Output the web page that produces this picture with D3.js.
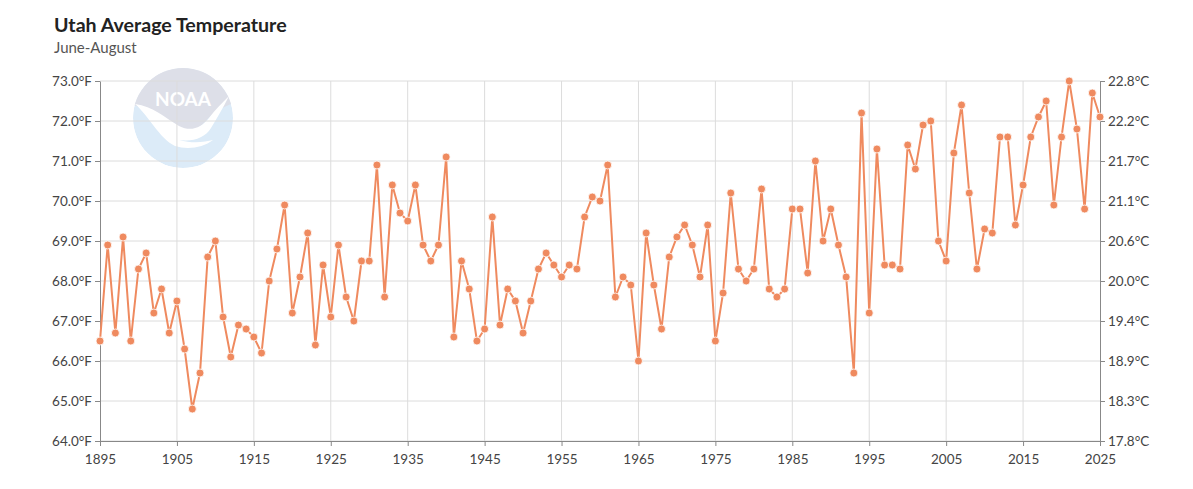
<!DOCTYPE html>
<html>
<head>
<meta charset="utf-8">
<script src="https://cdn.jsdelivr.net/npm/d3@7"></script>
<style>
  body { margin: 0; background: #fff; }
  svg { display: block; font-family: "Source Sans Pro", Lato, "Noto Sans", sans-serif; }
</style>
</head>
<body>
<div id="chart"></div>
<script>
const firstYear = 1895;
const temps = [
  66.5, 68.9, 66.7, 69.1, 66.5, 68.3, 68.7, 67.2, 67.8, 66.7,
  67.5, 66.3, 64.8, 65.7, 68.6, 69.0, 67.1, 66.1, 66.9, 66.8,
  66.6, 66.2, 68.0, 68.8, 69.9, 67.2, 68.1, 69.2, 66.4, 68.4,
  67.1, 68.9, 67.6, 67.0, 68.5, 68.5, 70.9, 67.6, 70.4, 69.7,
  69.5, 70.4, 68.9, 68.5, 68.9, 71.1, 66.6, 68.5, 67.8, 66.5,
  66.8, 69.6, 66.9, 67.8, 67.5, 66.7, 67.5, 68.3, 68.7, 68.4,
  68.1, 68.4, 68.3, 69.6, 70.1, 70.0, 70.9, 67.6, 68.1, 67.9,
  66.0, 69.2, 67.9, 66.8, 68.6, 69.1, 69.4, 68.9, 68.1, 69.4,
  66.5, 67.7, 70.2, 68.3, 68.0, 68.3, 70.3, 67.8, 67.6, 67.8,
  69.8, 69.8, 68.2, 71.0, 69.0, 69.8, 68.9, 68.1, 65.7, 72.2,
  67.2, 71.3, 68.4, 68.4, 68.3, 71.4, 70.8, 71.9, 72.0, 69.0,
  68.5, 71.2, 72.4, 70.2, 68.3, 69.3, 69.2, 71.6, 71.6, 69.4,
  70.4, 71.6, 72.1, 72.5, 69.9, 71.6, 73.0, 71.8, 69.8, 72.7,
  72.1
];
const yearTicks = [1895, 1905, 1915, 1925, 1935, 1945, 1955, 1965, 1975, 1985, 1995, 2005, 2015, 2025];
const fTicks = [64, 65, 66, 67, 68, 69, 70, 71, 72, 73];

const data = temps.map((t, i) => ({ year: firstYear + i, temp: t }));

const width = 1193, height = 489;
const marginLeft = 100, marginRight = 93, marginTop = 81, marginBottom = 48;

const svg = d3.select('#chart').append('svg')
  .attr('width', width)
  .attr('height', height);

const x = d3.scaleLinear()
  .domain([1895, 2025])
  .range([marginLeft, width - marginRight]);

const y = d3.scaleLinear()
  .domain([64, 73])
  .range([height - marginBottom, marginTop]);

// title
svg.append('text')
  .attr('x', 54).attr('y', 32)
  .style('font-size', '19.6px').style('font-weight', 'bold').attr('fill', '#222')
  .text('Utah Average Temperature');
svg.append('text')
  .attr('x', 54).attr('y', 53)
  .style('font-size', '15px').attr('fill', '#555')
  .text('June-August');

// NOAA logo watermark
const logo = svg.append('g').attr('transform', 'translate(183,118)');
logo.append('clipPath').attr('id', 'logoClip')
  .append('circle').attr('r', 50);
const lg = logo.append('g').attr('clip-path', 'url(#logoClip)');
lg.append('circle').attr('r', 50).attr('fill', '#dcebf8');
lg.append('path')
  .attr('d', 'M-60,-60 L60,-60 L60,-18 C40,-12 30,-6 22,4 C12,14 2,16 -8,10 C-22,2 -38,-14 -60,-14 Z')
  .attr('fill', '#dddfe8');
lg.append('path')
  .attr('d', 'M-48,-14 C-30,-12 -18,0 -4,8 C8,14 18,10 26,0 C32,-8 38,-14 46,-22 C40,-10 34,0 28,10 C22,20 10,24 -4,22 C10,26 22,24 30,22 C20,30 4,32 -8,28 C-24,20 -34,-2 -48,-14 Z')
  .attr('fill', '#fff');
logo.append('text')
  .attr('x', 0).attr('y', -12)
  .attr('text-anchor', 'middle')
  .style('font-size', '19px').style('font-weight', 'bold')
  .attr('fill', '#fff')
  .text('NOAA');

// grid
svg.append('g')
  .selectAll('line')
  .data(fTicks)
  .join('line')
  .attr('x1', marginLeft).attr('x2', width - marginRight)
  .attr('y1', d => y(d)).attr('y2', d => y(d))
  .attr('stroke', '#dcdcdc');
svg.append('g')
  .selectAll('line')
  .data(yearTicks.slice(1, -1))
  .join('line')
  .attr('x1', d => x(d)).attr('x2', d => x(d))
  .attr('y1', marginTop).attr('y2', height - marginBottom)
  .attr('stroke', '#dcdcdc');

// axes
function styleAxis(g) {
  g.select('.domain').attr('stroke', '#888');
  g.selectAll('.tick line').attr('stroke', '#888');
  g.selectAll('.tick text').attr('fill', '#444').style('font-size', '13.5px')
    .style('font-family', '"Source Sans Pro", Lato, "Noto Sans", sans-serif');
}

svg.append('g')
  .attr('transform', `translate(0,${height - marginBottom})`)
  .call(d3.axisBottom(x).tickValues(yearTicks).tickFormat(d3.format('d')).tickSize(5).tickSizeOuter(0))
  .call(styleAxis)
  .call(g => g.selectAll('.tick text').attr('dy', '1.1em'));

svg.append('g')
  .attr('transform', `translate(${marginLeft},0)`)
  .call(d3.axisLeft(y).tickValues(fTicks).tickFormat(d => d.toFixed(1) + '°F').tickSize(5).tickSizeOuter(0))
  .call(styleAxis);

svg.append('g')
  .attr('transform', `translate(${width - marginRight},0)`)
  .call(d3.axisRight(y).tickValues(fTicks).tickFormat(d => ((d - 32) * 5 / 9).toFixed(1) + '°C').tickSize(5).tickSizeOuter(0))
  .call(styleAxis);

// line + dots
const color = '#ef8a5f';
svg.append('path')
  .datum(data)
  .attr('fill', 'none')
  .attr('stroke', color)
  .attr('stroke-width', 2)
  .attr('d', d3.line().x(d => x(d.year)).y(d => y(d.temp)));

svg.append('g')
  .selectAll('circle')
  .data(data)
  .join('circle')
  .attr('cx', d => x(d.year))
  .attr('cy', d => y(d.temp))
  .attr('r', 4)
  .attr('fill', color)
  .attr('stroke', '#fff')
  .attr('stroke-width', 0.8);
</script>
</body>
</html>
